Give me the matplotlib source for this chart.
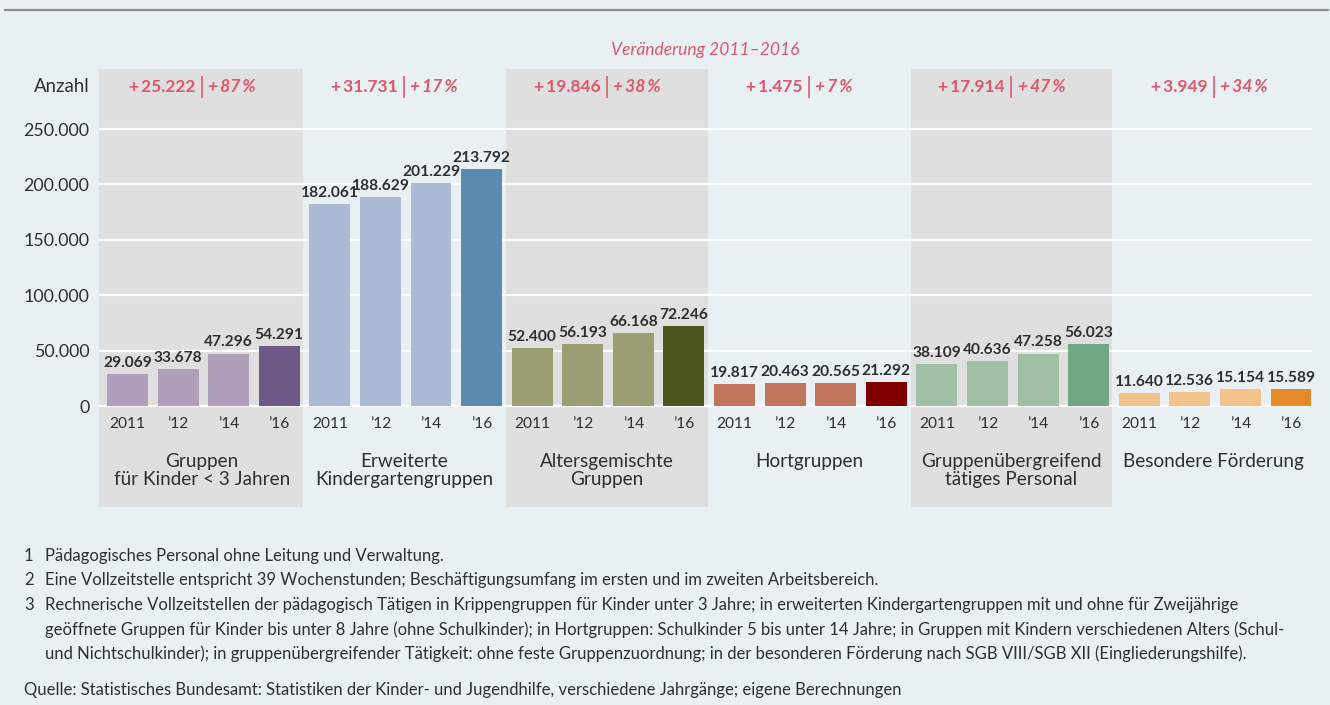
import matplotlib
matplotlib.use('Agg')
import matplotlib.pyplot as plt

FONT = ['Lato', 'DejaVu Sans']
plt.rcParams['font.family'] = FONT

categories = ["Gruppen\nfür Kinder < 3 Jahren", "Erweiterte\nKindergartengruppen",
              "Altersgemischte\nGruppen", "Hortgruppen",
              "Gruppenübergreifend\ntätiges Personal", "Besondere Förderung"]
years = ["2011", "’12", "’14", "’16"]
values_krippe = [29069, 33678, 47296, 54291]
values_kiga = [182061, 188629, 201229, 213792]
values_alters = [52400, 56193, 66168, 72246]
values_hort = [19817, 20463, 20565, 21292]
values_uebergreifend = [38109, 40636, 47258, 56023]
values_foerderung = [11640, 12536, 15154, 15589]
change_abs = ["+\u200925.222", "+\u200931.731", "+\u200919.846", "+\u20091.475", "+\u200917.914", "+\u20093.949"]
change_pct = ["+\u200987\u2009%", "+\u200917\u2009%", "+\u200938\u2009%", "+\u20097\u2009%", "+\u200947\u2009%", "+\u200934\u2009%"]
yticks = [0, 50000, 100000, 150000, 200000, 250000]
ytick_labels = ["0", "50.000", "100.000", "150.000", "200.000", "250.000"]

light_colors = ["#b09fbb", "#abbbd6", "#9a9e72", "#c0755c", "#a0bfa5", "#f4c38d"]
dark_colors = ["#6e5887", "#5b8aaf", "#4b551c", "#800000", "#72a784", "#e5892a"]

all_values = [values_krippe, values_kiga, values_alters, values_hort,
              values_uebergreifend, values_foerderung]

BG = "#e8f0f3"
BAND = "#dfdfdf"
RED = "#e0566a"
TXT = "#2f2f2f"

W, H = 1330, 705
fig = plt.figure(figsize=(13.3, 7.05), dpi=100, facecolor=BG)

# axes placed in pixel coordinates
ax_l, ax_r, ax_t, ax_b = 99, 1312, 69, 507
ax = fig.add_axes([ax_l / W, 1 - ax_b / H, (ax_r - ax_l) / W, (ax_b - ax_t) / H])
ax.set_facecolor(BG)
for s in ax.spines.values():
    s.set_visible(False)

ax.set_xlim(-0.563, 23.415)
ax.set_ylim(-91155, 304152)

# shaded bands
for g in range(0, 6, 2):
    left = 4 * g - 0.52 if g > 0 else -0.563
    ax.axvspan(left, 4 * g + 3.47, color=BAND, zorder=0, lw=0)

# gridlines
for yv in yticks:
    ax.axhline(yv, color="white", lw=1.6, zorder=1)

ax.set_yticks(yticks)
ax.set_yticklabels(ytick_labels, fontsize=12.8, color=TXT)
ax.tick_params(axis='y', length=0, pad=7)
ax.set_xticks([])

bar_w = 0.81
for g, vals in enumerate(all_values):
    xs = [4 * g + i for i in range(4)]
    cols = [light_colors[g]] * 3 + [dark_colors[g]]
    ax.bar(xs, vals, width=bar_w, color=cols, zorder=2, lw=0)
    for x, v, yl in zip(xs, vals, years):
        ax.annotate(f"{v:,}".replace(",", "."), (x, v), xytext=(0, 3),
                    textcoords="offset points", ha="center", va="bottom",
                    fontsize=11.2, fontweight="bold", color=TXT, zorder=3)
        ax.text(x, -16245, yl, ha="center", va="center", fontsize=11.2, color=TXT)
    cx = 4 * g + 1.47
    ax.text(cx, -42420, categories[g], ha="center", va="top", fontsize=13.6,
            color=TXT, linespacing=1.1)
    ychg = 287900
    ax.text(cx, ychg, "|", ha="center", va="center", fontsize=17.5, color=RED,
            fontweight="normal")
    ax.annotate(change_abs[g], (cx, ychg), xytext=(-4.5, 0), textcoords="offset points",
                ha="right", va="center", fontsize=12.5, fontweight="bold", color=RED)
    ax.annotate(change_pct[g], (cx, ychg), xytext=(4.5, 0), textcoords="offset points",
                ha="left", va="center", fontsize=12.5, fontweight="bold",
                fontstyle="italic", color=RED)

# title and y label
fig.text(705 / W, 1 - 50 / H, "Veränderung 2011–2016", ha="center", va="center",
         fontsize=12.5, fontstyle="italic", color=RED)
fig.text(90 / W, 1 - 87 / H, "Anzahl", ha="right", va="center", fontsize=13.4, color=TXT)

# top rule
fig.add_artist(plt.Line2D([5 / W, 1328 / W], [1 - 10 / H, 1 - 10 / H],
                          color="#8c8c8c", lw=1.6, transform=fig.transFigure))

# footnotes
notes = [
    ("1", "Pädagogisches Personal ohne Leitung und Verwaltung.", 556),
    ("2", "Eine Vollzeitstelle entspricht 39 Wochenstunden; Beschäftigungsumfang im ersten und im zweiten Arbeitsbereich.", 580),
    ("3", "Rechnerische Vollzeitstellen der pädagogisch Tätigen in Krippengruppen für Kinder unter 3 Jahre; in erweiterten Kindergartengruppen mit und ohne für Zweijährige", 605),
    ("", "geöffnete Gruppen für Kinder bis unter 8 Jahre (ohne Schulkinder); in Hortgruppen: Schulkinder 5 bis unter 14 Jahre; in Gruppen mit Kindern verschiedenen Alters (Schul-", 630),
    ("", "und Nichtschulkinder); in gruppenübergreifender Tätigkeit: ohne feste Gruppenzuordnung; in der besonderen Förderung nach SGB VIII/SGB XII (Eingliederungshilfe).", 654),
]
FN = 12.0
for num, txt, yp in notes:
    if num:
        fig.text(24 / W, 1 - yp / H, num, ha="left", va="center", fontsize=FN, color=TXT)
    fig.text(45 / W, 1 - yp / H, txt, ha="left", va="center", fontsize=FN, color=TXT)
fig.text(24 / W, 1 - 690 / H,
         "Quelle: Statistisches Bundesamt: Statistiken der Kinder- und Jugendhilfe, verschiedene Jahrgänge; eigene Berechnungen",
         ha="left", va="center", fontsize=FN, color=TXT)

fig.savefig("out.png", dpi=100, facecolor=BG)
